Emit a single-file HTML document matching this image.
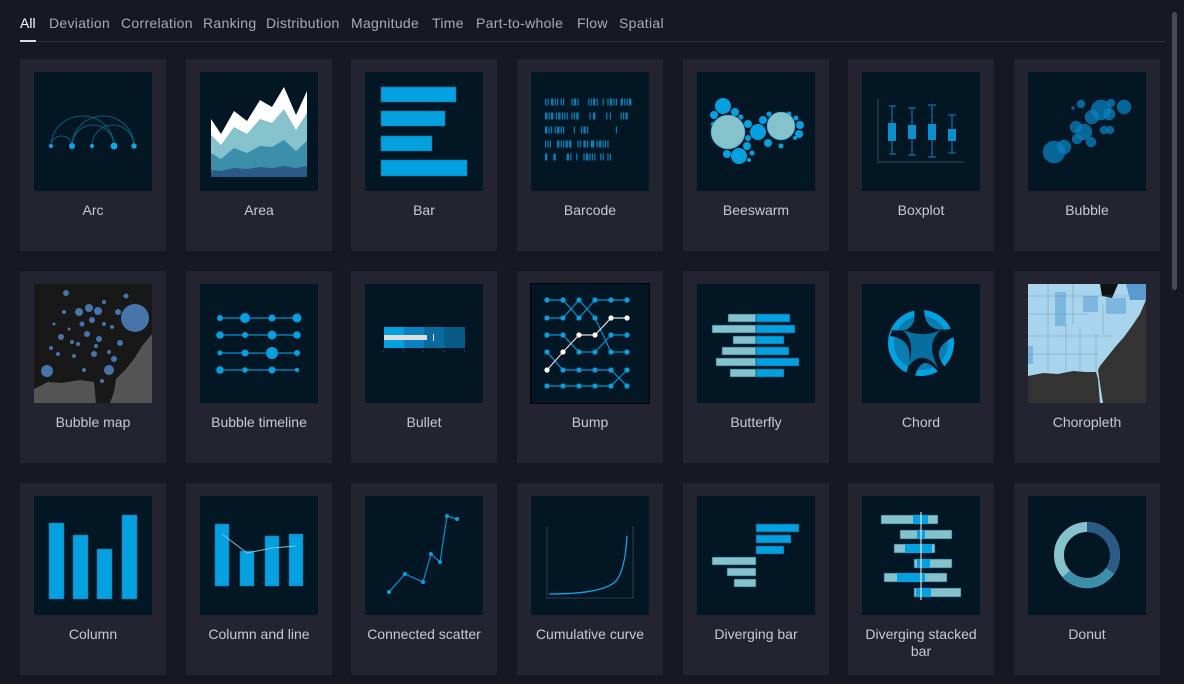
<!DOCTYPE html>
<html><head><meta charset="utf-8"><style>
*{margin:0;padding:0;box-sizing:border-box}
body{width:1184px;height:684px;background:#171821;font-family:"Liberation Sans",sans-serif;position:relative;overflow:hidden}
.t{position:absolute;top:15px;font-size:14px;color:#a9abb4;white-space:nowrap}
.t.on{color:#fff}
.line{position:absolute;left:20px;top:41px;width:1145px;height:1px;background:#2e303b}
.ul{position:absolute;left:20px;top:40px;width:16px;height:2px;background:#ddd}
.sb{position:absolute;left:1172px;top:12px;width:5px;height:278px;background:#4a4b52;border-radius:3px}
.c{position:absolute;width:146px;height:192px;background:#23242f}
.c svg{position:absolute;left:14px;top:13px;width:118px;height:119px;background:#021624}
.c div{position:absolute;left:0;right:0;top:143px;text-align:center;font-size:14px;color:#c9cad0;line-height:17px}
</style></head><body>
<span class="t on" style="left:20px">All</span>
<span class="t" style="left:49px;letter-spacing:.3px">Deviation</span>
<span class="t" style="left:121px;letter-spacing:.3px">Correlation</span>
<span class="t" style="left:203px;letter-spacing:.3px">Ranking</span>
<span class="t" style="left:266px;letter-spacing:.3px">Distribution</span>
<span class="t" style="left:351px;letter-spacing:.3px">Magnitude</span>
<span class="t" style="left:432px;letter-spacing:.3px">Time</span>
<span class="t" style="left:476px;letter-spacing:.3px">Part-to-whole</span>
<span class="t" style="left:577px;letter-spacing:.3px">Flow</span>
<span class="t" style="left:619px;letter-spacing:.3px">Spatial</span>
<div class="line"></div><div class="ul"></div><div class="sb"></div>

<!-- Row 1 -->
<div class="c" style="left:20px;top:59px"><svg viewBox="0 0 118 119"><g fill="none" stroke="#0a5e7e" stroke-width="1"><path d="M17 74 A10.5 10 0 0 1 38 74"/><path d="M17 74 A31.5 30 0 0 1 80 74"/><path d="M38 74 A31 30 0 0 1 100 74"/><path d="M58 74 A21 21 0 0 1 100 74"/><path d="M38 74 A21 21 0 0 1 80 74"/></g><g fill="#0ea5e9"><circle cx="17" cy="74" r="2"/><circle cx="38" cy="74" r="3"/><circle cx="58" cy="74" r="2"/><circle cx="80" cy="74" r="3.5"/><circle cx="100" cy="74" r="2.7"/></g></svg><div>Arc</div></div>

<div class="c" style="left:186px;top:59px"><svg viewBox="0 0 118 119"><polygon fill="#fff" points="11,47 21,62 34,39 47,49 60,28 72,35 84,15 96,43 107,19 107,105 11,105"/><polygon fill="#86c2cb" points="11,63 21,73 34,55 47,62 60,47 72,51 84,37 96,58 107,41 107,105 11,105"/><polygon fill="#3c8fab" points="11,81 21,87 34,76 47,81 60,74 72,75 84,68 96,79 107,69 107,105 11,105"/><polygon fill="#2c5a86" points="11,98 21,99 34,96 47,97 60,95 72,96 84,94 96,96 107,94 107,105 11,105"/></svg><div>Area</div></div>

<div class="c" style="left:351px;top:59px"><svg viewBox="0 0 118 119"><g fill="#05a0e0" stroke="#0a6f9a" stroke-width=".6"><rect x="16" y="15" width="75" height="15"/><rect x="16" y="39" width="64" height="15"/><rect x="16" y="64" width="51" height="15"/><rect x="16" y="88" width="86" height="16"/></g></svg><div>Bar</div></div>

<div class="c" style="left:517px;top:59px"><svg viewBox="0 0 118 119"><g stroke="#0780b8" stroke-width="7" transform="translate(-4,0) scale(1.2,1)">
<path d="M15 30 H33" stroke-dasharray="1 1 1 2 2 1 1 1 1 2"/><path d="M37 30 H45" stroke-dasharray="1 1 2 1 1 2"/><path d="M51 30 H60" stroke-dasharray="1 1 1 1 2 1 1 2"/><path d="M63 30 H64"/><path d="M67 30 H76" stroke-dasharray="1 1 2 1 1 1"/><path d="M78 30 H88" stroke-dasharray="2 1 1 1 1 1"/>
<path d="M15 44 H22" stroke-dasharray="2 1 1 1"/><path d="M24 44 H34" stroke-dasharray="1 1 2 1 1 1"/><path d="M37 44 H40" stroke-dasharray="1 1"/><path d="M41 44 H43"/><path d="M52 44 H53"/><path d="M55 44 H58" stroke-dasharray="2 1"/><path d="M66 44 H71" stroke-dasharray="1 2 1 1"/><path d="M78 44 H84" stroke-dasharray="1 1 1 1 2"/>
<path d="M15 58 H33" stroke-dasharray="2 1 1 1 1 2 1 1"/><path d="M39 58 H40"/><path d="M45 58 H52" stroke-dasharray="1 1 2 1 1 2"/><path d="M74 58 H75"/>
<path d="M15 72 H18" stroke-dasharray="1 1"/><path d="M19 72 H20"/><path d="M25 72 H38" stroke-dasharray="2 1 1 1 1 1 2 1"/><path d="M42 72 H52" stroke-dasharray="1 1 1 2 2 1"/><path d="M53 72 H56"/><path d="M58 72 H68" stroke-dasharray="1 1 2 1 1 1"/>
<path d="M15 85 H18" stroke-dasharray="2 1"/><path d="M22 85 H24"/><path d="M33 85 H37" stroke-dasharray="2 1"/><path d="M41 85 H42"/><path d="M47 85 H58" stroke-dasharray="1 1 2 1 1 1 1"/><path d="M61 85 H64" stroke-dasharray="1 1"/><path d="M67 85 H70" stroke-dasharray="1 1"/>
</g></svg><div>Barcode</div></div>

<div class="c" style="left:683px;top:59px"><svg viewBox="0 0 118 119"><g fill="#05a0e0"><circle cx="26" cy="34" r="8"/><circle cx="42" cy="84" r="8"/><circle cx="61" cy="60" r="8"/><circle cx="38" cy="40" r="4"/><circle cx="17" cy="43" r="4"/><circle cx="44" cy="45" r="2.5"/><circle cx="51" cy="52" r="4"/><circle cx="66" cy="48" r="4"/><circle cx="51" cy="66" r="3"/><circle cx="50" cy="74" r="4"/><circle cx="71" cy="71" r="4"/><circle cx="84" cy="74" r="2.5"/><circle cx="30" cy="82" r="4"/><circle cx="55" cy="81" r="2.5"/><circle cx="103" cy="53" r="4"/><circle cx="102" cy="62" r="4"/><circle cx="99" cy="46" r="2.5"/><circle cx="92" cy="42" r="2.5"/><circle cx="72" cy="42" r="2.5"/><circle cx="16" cy="52" r="2"/><circle cx="52" cy="88" r="2"/><circle cx="82" cy="42" r="2"/><circle cx="98" cy="66" r="2"/></g><circle cx="31" cy="60" r="17" fill="#86c2cb" stroke="#05a0e0" stroke-width=".6"/><circle cx="84" cy="54" r="14" fill="#86c2cb" stroke="#05a0e0" stroke-width=".6"/></svg><div>Beeswarm</div></div>

<div class="c" style="left:848px;top:59px"><svg viewBox="0 0 118 119"><path d="M16 27 V90 H102" stroke="#3a4a58" fill="none"/><g stroke="#0a73a8" stroke-width="1.2"><path d="M30 34 V82 M27 34 H34 M27 82 H34"/><path d="M50 36 V83 M46 36 H54 M46 83 H54"/><path d="M70 33 V85 M66 33 H74 M66 85 H74"/><path d="M90 43 V81 M86 43 H94 M86 81 H94"/></g><g fill="#0a8fcc"><rect x="26" y="51" width="8" height="18"/><rect x="46" y="53" width="8" height="14"/><rect x="66" y="52" width="8" height="16"/><rect x="86" y="57" width="8" height="12"/></g></svg><div>Boxplot</div></div>

<div class="c" style="left:1014px;top:59px"><svg viewBox="0 0 118 119"><g fill="#0a82c0" fill-opacity=".75" stroke="#0a6a9a" stroke-width=".5"><circle cx="26" cy="80" r="11"/><circle cx="36" cy="75" r="7"/><circle cx="56" cy="60" r="8"/><circle cx="48" cy="55" r="6"/><circle cx="49" cy="67" r="5"/><circle cx="63" cy="70" r="5"/><circle cx="64" cy="45" r="7"/><circle cx="73" cy="38" r="10"/><circle cx="81" cy="42" r="6"/><circle cx="96" cy="35" r="7"/><circle cx="53" cy="32" r="4"/><circle cx="83" cy="31" r="4"/><circle cx="76" cy="58" r="4"/><circle cx="82" cy="58" r="4"/><circle cx="45" cy="36" r="1.5"/></g></svg><div>Bubble</div></div>

<!-- Row 2 -->
<div class="c" style="left:20px;top:271px"><svg viewBox="0 0 118 119"><rect width="118" height="119" fill="#181818"/><path d="M118 50 L108 62 100 75 92 85 82 95 80 108 76 119 118 119Z M0 105 L14 98 28 99 46 96 60 98 62 119 0 119Z" fill="#555"/><g fill="#4f86c6" fill-opacity=".85"><circle cx="101" cy="34" r="14"/><circle cx="13" cy="87" r="6"/><circle cx="75" cy="86" r="5"/><circle cx="64" cy="27" r="4"/><circle cx="55" cy="24" r="4"/><circle cx="45" cy="28" r="4"/><circle cx="32" cy="9" r="3"/><circle cx="92" cy="12" r="2.5"/><circle cx="53" cy="50" r="3"/><circle cx="65" cy="55" r="3"/><circle cx="86" cy="59" r="3"/><circle cx="60" cy="70" r="3"/><circle cx="27" cy="53" r="3"/><circle cx="17" cy="64" r="2"/><circle cx="40" cy="72" r="2"/><circle cx="78" cy="43" r="2"/><circle cx="30" cy="28" r="2"/><circle cx="70" cy="40" r="2"/><circle cx="44" cy="60" r="2"/><circle cx="75" cy="68" r="2"/><circle cx="20" cy="40" r="1.5"/><circle cx="50" cy="86" r="2"/><circle cx="68" cy="97" r="2"/><circle cx="35" cy="45" r="1.5"/><circle cx="58" cy="36" r="3"/><circle cx="48" cy="40" r="2.5"/><circle cx="80" cy="75" r="3"/><circle cx="62" cy="62" r="2"/><circle cx="38" cy="58" r="2"/><circle cx="24" cy="70" r="2"/><circle cx="70" cy="18" r="2"/><circle cx="84" cy="28" r="3"/></g></svg><div>Bubble map</div></div>

<div class="c" style="left:186px;top:271px"><svg viewBox="0 0 118 119"><g stroke="#0a8fcc" stroke-width="1.3"><path d="M20 34 H98 M20 51 H98 M20 69 H98 M20 86 H98"/></g><g fill="#05a0e0"><circle cx="20" cy="34" r="3"/><circle cx="45" cy="34" r="5"/><circle cx="72" cy="34" r="3.5"/><circle cx="97" cy="34" r="4.5"/><circle cx="20" cy="51" r="3.8"/><circle cx="45" cy="51" r="3"/><circle cx="72" cy="51" r="4.5"/><circle cx="97" cy="51" r="3.8"/><circle cx="20" cy="69" r="2.5"/><circle cx="45" cy="69" r="3.5"/><circle cx="72" cy="69" r="6"/><circle cx="97" cy="69" r="3"/><circle cx="20" cy="86" r="3.8"/><circle cx="45" cy="86" r="2.8"/><circle cx="72" cy="86" r="3.5"/><circle cx="97" cy="86" r="2.2"/></g></svg><div>Bubble timeline</div></div>

<div class="c" style="left:351px;top:271px"><svg viewBox="0 0 118 119"><rect x="19" y="43" width="20" height="21" fill="#05a0e0"/><rect x="39" y="43" width="20" height="21" fill="#0a82c0"/><rect x="59" y="43" width="20" height="21" fill="#0a6a9e"/><rect x="79" y="43" width="21" height="21" fill="#0a5a86"/><rect x="19" y="51" width="43" height="5" fill="#ddd"/><rect x="68" y="50" width="1" height="7" fill="#ddd"/><g fill="#556"><rect x="18.5" y="66" width=".6" height="2"/><rect x="38.5" y="66" width=".6" height="2"/><rect x="58.5" y="66" width=".6" height="2"/><rect x="78.5" y="66" width=".6" height="2"/><rect x="99.5" y="66" width=".6" height="2"/></g></svg><div>Bullet</div></div>

<div class="c" style="left:517px;top:271px"><svg viewBox="0 0 118 119" style="outline:1px solid #000"><g stroke="#0a8fcc" stroke-width="1.2" fill="none"><path d="M16 16 H32 L48 34 L64 16 H96"/><path d="M16 34 H32 L48 16 L64 34 L80 68 H96"/><path d="M16 51 H32 L48 68 H64 L80 51 H96"/><path d="M16 68 L32 86 H80 L96 102"/><path d="M16 102 H80 L96 86"/></g><g stroke="#ddd" stroke-width="1.2" fill="none"><path d="M16 86 L32 68 L48 51 H64 L80 34 H96"/></g><g fill="#05a0e0"><circle cx="16" cy="16" r="2.6"/><circle cx="32" cy="16" r="2.6"/><circle cx="48" cy="16" r="2.6"/><circle cx="64" cy="16" r="2.6"/><circle cx="80" cy="16" r="2.6"/><circle cx="96" cy="16" r="2.6"/><circle cx="16" cy="34" r="2.6"/><circle cx="32" cy="34" r="2.6"/><circle cx="48" cy="34" r="2.6"/><circle cx="64" cy="34" r="2.6"/><circle cx="16" cy="51" r="2.6"/><circle cx="32" cy="51" r="2.6"/><circle cx="80" cy="51" r="2.6"/><circle cx="96" cy="51" r="2.6"/><circle cx="16" cy="68" r="2.6"/><circle cx="48" cy="68" r="2.6"/><circle cx="64" cy="68" r="2.6"/><circle cx="80" cy="68" r="2.6"/><circle cx="96" cy="68" r="2.6"/><circle cx="32" cy="86" r="2.6"/><circle cx="48" cy="86" r="2.6"/><circle cx="64" cy="86" r="2.6"/><circle cx="80" cy="86" r="2.6"/><circle cx="96" cy="86" r="2.6"/><circle cx="16" cy="102" r="2.6"/><circle cx="32" cy="102" r="2.6"/><circle cx="48" cy="102" r="2.6"/><circle cx="64" cy="102" r="2.6"/><circle cx="80" cy="102" r="2.6"/><circle cx="96" cy="102" r="2.6"/></g><g fill="#fff"><circle cx="16" cy="86" r="2.6"/><circle cx="32" cy="68" r="2.6"/><circle cx="48" cy="51" r="2.6"/><circle cx="64" cy="51" r="2.6"/><circle cx="80" cy="34" r="2.6"/><circle cx="96" cy="34" r="2.6"/></g></svg><div>Bump</div></div>

<div class="c" style="left:683px;top:271px"><svg viewBox="0 0 118 119"><g stroke="#0a4a6a" stroke-width=".6"><g fill="#86c2cb"><rect x="31" y="30" width="28" height="8"/><rect x="15" y="41" width="44" height="8"/><rect x="36" y="52" width="23" height="8"/><rect x="25" y="63" width="34" height="8"/><rect x="19" y="74" width="40" height="8"/><rect x="33" y="85" width="26" height="8"/></g><g fill="#05a0e0"><rect x="59" y="30" width="34" height="8"/><rect x="59" y="41" width="39" height="8"/><rect x="59" y="52" width="28" height="8"/><rect x="59" y="63" width="33" height="8"/><rect x="59" y="74" width="43" height="8"/><rect x="59" y="85" width="28" height="8"/></g></g></svg><div>Butterfly</div></div>

<div class="c" style="left:848px;top:271px"><svg viewBox="0 0 118 119"><circle cx="59" cy="59" r="33" fill="#05a0e0"/><circle cx="59" cy="59" r="27" fill="#0a7cb0"/><path d="M52 25 Q56 50 30 46 L28 52 Q58 56 42 95 L52 96 Q60 62 82 96 L90 90 Q62 66 94 52 L92 44 Q62 52 62 24Z" fill="#021624"/><path d="M40 45 Q59 55 79 46 Q62 60 77 85 Q59 62 44 86 Q56 60 40 45Z" fill="#0a95d4" fill-opacity=".7"/></svg><div>Chord</div></div>

<div class="c" style="left:1014px;top:271px"><svg viewBox="0 0 118 119"><rect width="118" height="119" fill="#a8d4ee"/><path d="M118 16 L112 30 104 42 96 53 88 62 80 72 72 82 70 86 72 100 75 119 118 119Z M0 92 L15 89 30 90 45 87 58 88 68 88 70 95 72 119 0 119Z" fill="#333"/><path d="M27 8 H38 V42 H27Z M55 12 H70 V28 H55Z M78 14 H98 V30 H78Z M0 62 H5 V80 H0Z" fill="#7db6de"/><path d="M72 0 L90 0 84 14 74 12Z" fill="#111"/><path d="M98 0 H118 V16 H102Z" fill="#5a9ad0"/><g stroke="#6a8aa0" stroke-width=".4" fill="none"><path d="M0 30 H60 M0 52 H85 M0 70 H70 M20 0 V88 M38 40 V88 M52 45 V88 M68 50 V88 M45 0 V40 M75 20 V50 M0 12 H100"/></g></svg><div>Choropleth</div></div>

<!-- Row 3 -->
<div class="c" style="left:20px;top:483px"><svg viewBox="0 0 118 119"><g fill="#05a0e0" stroke="#0a6f9a" stroke-width=".5"><rect x="15" y="27" width="15" height="76"/><rect x="39" y="39" width="15" height="64"/><rect x="63" y="53" width="15" height="50"/><rect x="88" y="19" width="15" height="84"/></g></svg><div>Column</div></div>

<div class="c" style="left:186px;top:483px"><svg viewBox="0 0 118 119"><g fill="#05a0e0" stroke="#0a6f9a" stroke-width=".5"><rect x="15" y="28" width="14" height="62"/><rect x="40" y="55" width="14" height="35"/><rect x="65" y="40" width="14" height="50"/><rect x="89" y="38" width="14" height="52"/></g><path d="M22 38 L47 57 L72 52 L96 50" stroke="#86c2cb" stroke-width="1" fill="none"/></svg><div>Column and line</div></div>

<div class="c" style="left:351px;top:483px"><svg viewBox="0 0 118 119"><path d="M24 96 L40 78 L58 86 L66 58 L75 66 L82 20 L92 23" stroke="#0a8fcc" stroke-width="1.2" fill="none"/><g fill="#05a0e0"><circle cx="24" cy="96" r="2"/><circle cx="40" cy="78" r="2"/><circle cx="58" cy="86" r="2"/><circle cx="66" cy="58" r="2"/><circle cx="75" cy="66" r="2"/><circle cx="82" cy="20" r="2"/><circle cx="92" cy="23" r="2"/></g></svg><div>Connected scatter</div></div>

<div class="c" style="left:517px;top:483px"><svg viewBox="0 0 118 119"><path d="M16 30 V102 H102 V30" stroke="#3a4a58" fill="none" stroke-width=".8"/><path d="M18 98 Q70 98 84 86 Q94 76 96 40" stroke="#0ea5e9" stroke-width="1.3" fill="none"/></svg><div>Cumulative curve</div></div>

<div class="c" style="left:683px;top:483px"><svg viewBox="0 0 118 119"><g stroke="#0a4a6a" stroke-width=".6"><g fill="#05a0e0"><rect x="59" y="28" width="43" height="8"/><rect x="59" y="39" width="35" height="8"/><rect x="59" y="50" width="28" height="8"/></g><g fill="#86c2cb"><rect x="15" y="61" width="44" height="8"/><rect x="30" y="72" width="29" height="8"/><rect x="37" y="83" width="22" height="8"/></g></g></svg><div>Diverging bar</div></div>

<div class="c" style="left:848px;top:483px"><svg viewBox="0 0 118 119"><g stroke="#0a4a6a" stroke-width=".6"><rect x="19" y="19" width="57" height="9" fill="#86c2cb"/><rect x="38" y="34" width="52" height="9" fill="#86c2cb"/><rect x="32" y="48" width="41" height="9" fill="#86c2cb"/><rect x="52" y="63" width="38" height="9" fill="#86c2cb"/><rect x="22" y="77" width="63" height="9" fill="#86c2cb"/><rect x="52" y="92" width="47" height="9" fill="#86c2cb"/></g><g fill="#05a0e0"><rect x="51" y="19" width="15" height="9"/><rect x="55" y="34" width="8" height="9"/><rect x="43" y="48" width="27" height="9"/><rect x="55" y="63" width="13" height="9"/><rect x="35" y="77" width="28" height="9"/><rect x="54" y="92" width="15" height="9"/></g><line x1="59" y1="16" x2="59" y2="104" stroke="#fff" stroke-width="1"/></svg><div>Diverging stacked<br>bar</div></div>

<div class="c" style="left:1014px;top:483px"><svg viewBox="0 0 118 119"><circle cx="59" cy="59" r="28" fill="none" stroke="#86c2cb" stroke-width="10"/><path d="M59 31 A28 28 0 0 1 82 75" fill="none" stroke="#2c5a86" stroke-width="10"/><path d="M82 75 A28 28 0 0 1 38 78" fill="none" stroke="#3c8fab" stroke-width="10"/></svg><div>Donut</div></div>
</body></html>
